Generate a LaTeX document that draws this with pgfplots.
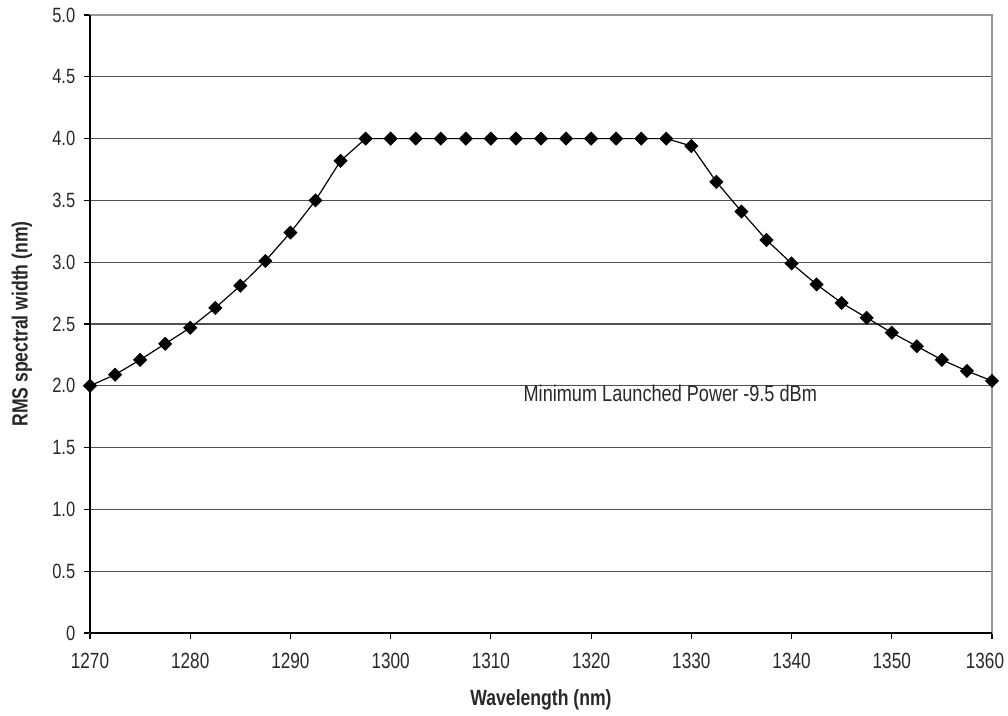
\documentclass[border=0pt]{standalone}
\usepackage{pgfplots}
\pgfplotsset{compat=1.18}
\usepackage{fontspec}
\setmainfont{Liberation Sans}
\newfontfamily\narrow[FakeStretch=0.8]{Liberation Sans}
\newfontfamily\narrowx[FakeStretch=0.78]{Liberation Sans}

\definecolor{gridgray}{RGB}{80,80,80}
\definecolor{framegray}{RGB}{150,150,150}
\definecolor{textgray}{RGB}{40,40,40}

\begin{document}
\begin{tikzpicture}
% fix the page to the reference's proportions (1 px = 0.75 pt)
\path[use as bounding box] (-67.5pt,-61.5pt) rectangle (688.5pt,474.75pt);
\begin{axis}[
    at={(0,0)}, anchor=south west,
    scale only axis,
    width=676.5pt, height=463.5pt,
    xmin=1270, xmax=1360,
    ymin=0, ymax=5,
    xtick={1270,1280,...,1360},
    xticklabels={1270,1280,1290,1300,1310,1320,1330,1340,1350,\hspace*{-10.5pt}1360},
    ytick={0,0.5,...,5},
    yticklabels={0,0.5,1.0,1.5,2.0,2.5,3.0,3.5,4.0,4.5,5.0},
    xticklabel style={font=\narrowx\fontsize{16.5}{19}\selectfont, text=textgray, yshift=-7pt},
    yticklabel style={font=\narrow\fontsize{15.5}{18}\selectfont, text=textgray, xshift=-3pt},
    tick align=outside,
    xtick pos=left, ytick pos=left,
    major tick length=4.5pt,
    tick style={black, line width=0.8pt},
    ymajorgrids,
    grid style={gridgray, line width=0.9pt},
    axis line style={framegray, line width=0.9pt},
    xlabel={Wavelength (nm)},
    ylabel={RMS spectral width (nm)},
    label style={font=\narrow\bfseries\fontsize{16.5}{19}\selectfont, text=textgray},
    xlabel style={at={(axis description cs:0.5,-0.108)}, anchor=center},
    ylabel style={at={(axis description cs:-0.0754,0.5)}, anchor=center, rotate=0},
    clip=false,
]
% black left and bottom axis lines
\draw[black, line width=1pt] (rel axis cs:0,0) -- (rel axis cs:1,0);
\draw[black, line width=1pt] (rel axis cs:0,0) -- (rel axis cs:0,1);

\addplot[color=black, line width=0.9pt, mark=square*, mark size=3.3pt,
         mark options={rotate=45, fill=black}] coordinates {
    (1270,2.00) (1272.5,2.09) (1275,2.21) (1277.5,2.34) (1280,2.47)
    (1282.5,2.63) (1285,2.81) (1287.5,3.01) (1290,3.24) (1292.5,3.50)
    (1295,3.82) (1297.5,4.00) (1300,4.00) (1302.5,4.00) (1305,4.00)
    (1307.5,4.00) (1310,4.00) (1312.5,4.00) (1315,4.00) (1317.5,4.00)
    (1320,4.00) (1322.5,4.00) (1325,4.00) (1327.5,4.00) (1330,3.94)
    (1332.5,3.65) (1335,3.41) (1337.5,3.18) (1340,2.99) (1342.5,2.82)
    (1345,2.67) (1347.5,2.55) (1350,2.43) (1352.5,2.32) (1355,2.21)
    (1357.5,2.12) (1360,2.04)
};

\node[font=\narrow\fontsize{17}{20}\selectfont, text=textgray] at (axis cs:1327.9,1.94)
    {Minimum Launched Power -9.5 dBm};
\end{axis}
\end{tikzpicture}
\end{document}
